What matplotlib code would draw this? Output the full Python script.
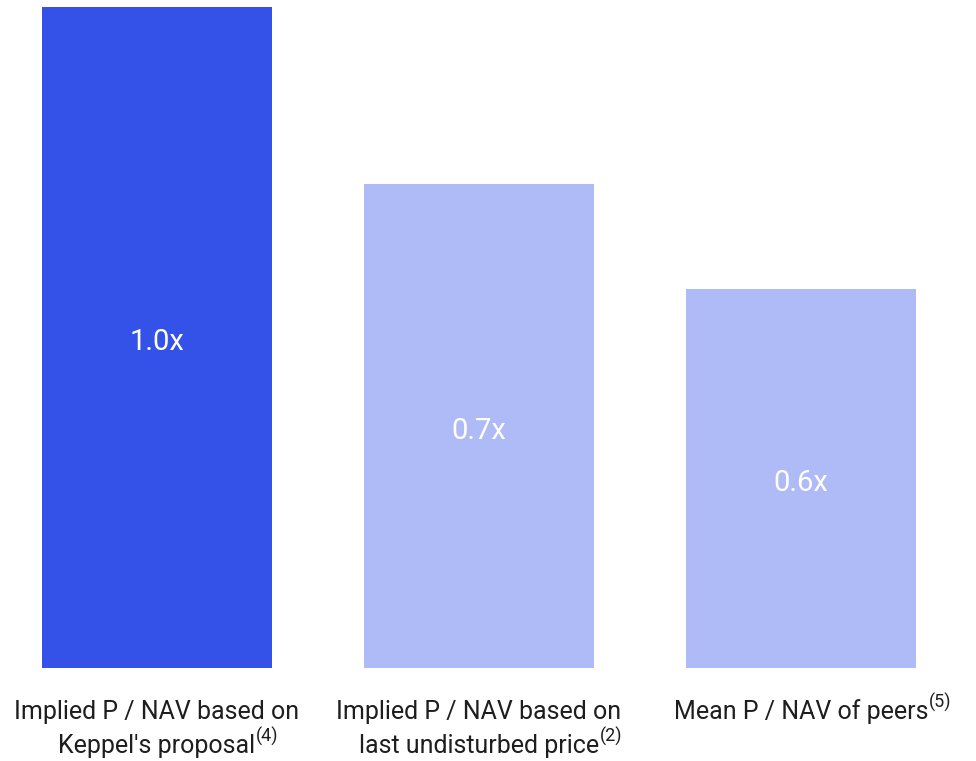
import matplotlib
matplotlib.use("Agg")
import matplotlib.pyplot as plt

plt.rcParams['font.family'] = ['Roboto', 'DejaVu Sans']

# dati
righe1 = ["Implied P / NAV based on", "Implied P / NAV based on", "Mean P / NAV of peers"]
righe2 = ["Keppel's proposal", "last undisturbed price", ""]
note = ["(4)", "(2)", "(5)"]
valori = [1.0, 0.732, 0.573]
etichette = ["1.0x", "0.7x", "0.6x"]
colori = ["#3452E8", "#AFBBF7", "#AFBBF7"]

fig = plt.figure(figsize=(9.76, 7.61), dpi=100)
ax = fig.add_axes([0, 93 / 761, 1, 668 / 761])

x = range(len(valori))
bars = ax.bar(x, valori, width=230 / 322, color=colori)

for b, lab in zip(bars, etichette):
    ax.annotate(lab, xy=(b.get_x() + b.get_width() / 2, b.get_height() / 2),
                xytext=(0, -3.5), textcoords='offset points',
                ha='center', va='center', color='white', fontsize=21)

ax.set_xlim(-157 / 322, (976 - 157) / 322)
ax.set_ylim(0, 668 / 661)
ax.axis('off')

y1 = -(719 - 668) / 661
y2 = -(753 - 668) / 661
for i in x:
    t1 = ax.text(i, y1, righe1[i], ha='center', va='baseline', fontsize=18,
                 color='#1e1e1e')
    ultima, yb = t1, y1
    if righe2[i]:
        ultima = ax.text(i, y2, righe2[i], ha='center', va='baseline',
                         fontsize=18, color='#1e1e1e')
        yb = y2
    # nota in apice dopo l'ultima riga
    ax.annotate(note[i], xy=(1, yb), xycoords=(ultima, 'data'),
                xytext=(0.5, 8), textcoords='offset points',
                ha='left', va='baseline', fontsize=13, color='#1e1e1e')

fig.savefig("out.png", dpi=100)
